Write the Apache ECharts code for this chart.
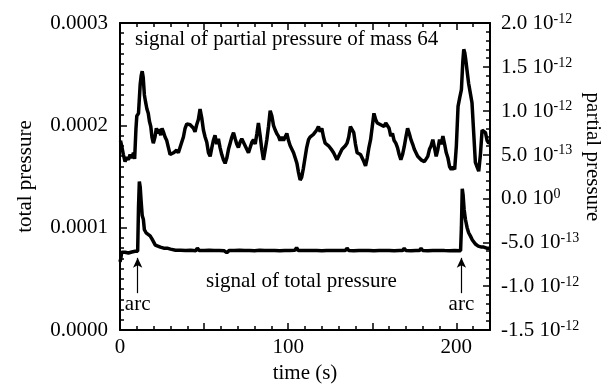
<!DOCTYPE html>
<html><head><meta charset="utf-8">
<script src="https://cdn.jsdelivr.net/npm/echarts@6/dist/echarts.min.js"></script>
<style>html,body{margin:0;padding:0;background:#fff}#c{width:604px;height:389px}</style>
</head><body><div id="c"></div>
<script>
// ---- data ----
// total pressure (left axis)
const timeTotal = [0,0.5,1,2,3,4,5,6,7,8,9,10.5,11,11.5,12,12.6,13.2,13.9,14.5,15.5,16.5,17.9,19,19.8,21,22,24,26,28,30,33,36,39,42,45,46,47,50,53,56,59,62,63.5,65,68,71,74,77,80,83,86,89,92,95,98,101,104,105,106,108,111,114,117,120,123,126,129,132,134,135,136,139,142,145,148,151,154,157,160,163,166,168,169,170,173,176,178,179,180,183,186,189,191,192,193,196,199,202.5,203,203.5,204,204.6,205.4,206.4,207.3,208.3,209.5,211.3,213,215,216.3,218,220];
const totalPressure = [0.0000665,0.000070,0.000076,0.0000755,0.000076,0.000077,0.0000752,0.000076,0.0000762,0.0000752,0.000077,0.000077,0.000120,0.000145,0.000140,0.000125,0.000112,0.000108,0.000098,0.000095,0.000094,0.000092,0.000089,0.000088,0.000083,0.000082,0.000081,0.000080,0.0000800,0.000079,0.000078,0.000078,0.0000776,0.0000779,0.0000775,0.0000800,0.0000778,0.0000777,0.0000779,0.0000776,0.0000778,0.0000774,0.0000755,0.0000778,0.0000777,0.0000779,0.0000776,0.0000778,0.0000775,0.0000779,0.0000777,0.0000776,0.0000778,0.0000775,0.0000778,0.0000777,0.0000779,0.0000805,0.0000776,0.0000778,0.0000776,0.0000778,0.0000777,0.0000775,0.0000778,0.0000776,0.0000778,0.0000777,0.0000776,0.0000800,0.0000777,0.0000775,0.0000778,0.0000776,0.0000778,0.0000775,0.0000777,0.0000776,0.0000778,0.0000775,0.0000777,0.0000776,0.0000798,0.0000777,0.0000775,0.0000777,0.0000776,0.0000797,0.0000777,0.0000775,0.0000778,0.0000776,0.0000777,0.0000796,0.0000776,0.0000775,0.0000777,0.0000775,0.000100,0.000138,0.000132,0.000118,0.000108,0.000100,0.000095,0.000092,0.000088,0.000084,0.000082,0.000081,0.000081,0.000080,0.000080];
// partial pressure of mass 64 (right axis), in units of 1e-12
const timePartial = [0.3,1,2,3,4,5,6,7,8,8.7,9.5,10,11,12,12.6,13.2,13.8,14.5,15.2,16,16.8,17.5,18.3,19,19.8,20.8,21.6,22.5,23.3,24.2,25,25.8,26.8,27.8,28.8,29.8,30.8,31.8,32.8,33.7,34.7,35.7,36.7,37.7,38.7,39.7,40.7,41.7,42.7,43.7,44.6,45.6,46.6,47.6,48.6,49.6,50.6,51.6,52.6,53.6,54.6,55.5,56.5,57.5,58.5,59.5,60.5,61.5,62.5,63.5,64.5,65.5,66.5,67.5,68.5,69.4,70.4,71.4,72.4,73.4,74.4,75.4,76.4,77.4,78.4,79.4,80.4,81.4,82.3,83.3,84.3,85.3,86.3,87.3,88.3,89.3,90.3,91.3,92.3,93.2,94.2,95.2,96.2,97.2,98.2,99.2,100.2,101.2,102.2,103.2,104.2,105.2,106.1,107.1,108,109,110,111,112.1,113,114,115,116,117,118,119,120,121,122,123,124,125,126,127,128,129,130,131,132,133,134,135,136,137,138,139,140,141,142,143,144,145,146,147,148,149,150,151,152,153,154,155,156,157,158,159,160,161,162,163,164,165,166,167,168,169,170,171,172,173,174,175,176,177,178,179,180,181,182,183,184,185,186,187,188,189,190,191,192,193,194,195,196,197,198,199,200,201,202,203,203.8,204.4,205,205.6,206.4,207.3,208.3,209.3,210.3,211.3,212.3,213.3,214.3,215.3,216.3,217.3,218.3,219.2,220];
const partialPressure = [0.66,0.60,0.50,0.42,0.47,0.44,0.50,0.46,0.52,0.45,0.80,0.94,0.97,1.30,1.40,1.45,1.38,1.18,1.10,1.02,0.97,0.88,0.82,0.70,0.63,0.70,0.80,0.74,0.79,0.72,0.80,0.76,0.70,0.66,0.58,0.50,0.48,0.52,0.51,0.55,0.52,0.58,0.60,0.70,0.80,0.85,0.86,0.84,0.86,0.80,0.76,0.84,0.90,1.02,0.92,0.78,0.70,0.64,0.52,0.48,0.58,0.66,0.72,0.62,0.68,0.58,0.50,0.44,0.40,0.46,0.56,0.63,0.70,0.75,0.68,0.62,0.58,0.64,0.68,0.66,0.60,0.56,0.52,0.58,0.64,0.67,0.62,0.74,0.86,0.72,0.56,0.44,0.55,0.67,0.82,1.00,0.94,0.83,0.78,0.74,0.71,0.66,0.70,0.66,0.70,0.74,0.66,0.60,0.56,0.52,0.46,0.40,0.30,0.21,0.24,0.34,0.46,0.58,0.67,0.70,0.68,0.73,0.74,0.78,0.82,0.76,0.80,0.70,0.63,0.62,0.60,0.59,0.55,0.52,0.48,0.44,0.48,0.52,0.56,0.54,0.60,0.63,0.70,0.82,0.80,0.75,0.62,0.52,0.54,0.50,0.48,0.42,0.37,0.46,0.58,0.67,0.82,0.97,0.90,0.86,0.88,0.84,0.86,0.82,0.86,0.88,0.80,0.71,0.74,0.66,0.63,0.58,0.50,0.44,0.50,0.59,0.70,0.80,0.74,0.67,0.62,0.56,0.52,0.48,0.46,0.44,0.46,0.42,0.41,0.48,0.56,0.60,0.67,0.58,0.48,0.56,0.67,0.62,0.71,0.62,0.52,0.46,0.36,0.33,0.36,0.33,0.60,1.05,1.15,1.24,1.55,1.70,1.66,1.58,1.45,1.31,1.20,1.09,0.75,0.41,0.36,0.31,0.50,0.78,0.80,0.75,0.66,0.63,0.64];
// tick labels
const xTickLabels = [0, 100, 200];
const leftTickLabels = ['0.0000','0.0001','0.0002','0.0003'];
const rightTickMantissa = ['-1.5','-1.0','-5.0','0.0','5.0','1.0','1.5','2.0'];
const rightTickExponent = ['-12','-12','-13','0','-13','-12','-12','-12'];
const arcTimes = [10.5, 203];

// ---- chart ----
const FONT = "'Liberation Serif','Times New Roman',serif";
const FS = 21;
const BLACK = '#000';
const txt = {color: BLACK, fontFamily: FONT, fontSize: FS};
const chart = echarts.init(document.getElementById('c'), null, {renderer: 'canvas'});

function xAxisDef(pos, interval, len, labels, line) {
  return {
    type: 'value', min: 0, max: 220, interval: interval, position: pos,
    axisLine: {show: line, onZero: false, lineStyle: {color: BLACK, width: 2}},
    axisTick: {show: true, inside: true, length: len, lineStyle: {color: BLACK, width: 1.5}},
    axisLabel: labels ? {
      show: true, margin: 7, ...txt,
      formatter: v => xTickLabels.indexOf(v) >= 0 ? String(v) : ''
    } : {show: false},
    splitLine: {show: false}
  };
}
const xAxes = [
  Object.assign(xAxisDef('bottom', 10, 4, true, true), {
    name: 'time (s)', nameLocation: 'middle', nameGap: 33, nameTextStyle: txt
  }),
  xAxisDef('bottom', 50, 7, false, false),
  xAxisDef('top', 10, 4, false, true),
  xAxisDef('top', 50, 7, false, false)
];

const totalData = timeTotal.map((t, i) => [t, totalPressure[i]]);
const partialData = timePartial.map((t, i) => [t, partialPressure[i]]);

chart.setOption({
  animation: false,
  backgroundColor: '#fff',
  grid: {left: 120, right: 114, top: 23, bottom: 58, containLabel: false},
  xAxis: xAxes,
  yAxis: [
    {
      type: 'value', min: 0, max: 0.0003, interval: 0.0001, position: 'left',
      axisLine: {show: true, onZero: false, lineStyle: {color: BLACK, width: 2}},
      axisTick: {show: true, inside: true, length: 7, lineStyle: {color: BLACK, width: 1.5}},
      minorTick: {show: true, splitNumber: 10, length: 4, lineStyle: {color: BLACK, width: 1.5}},
      axisLabel: {margin: 12, ...txt, formatter: v => leftTickLabels[Math.round(v / 0.0001)]},
      splitLine: {show: false}, minorSplitLine: {show: false},
      name: 'total pressure', nameLocation: 'middle', nameGap: 84, nameRotate: 90, nameTextStyle: txt
    },
    {
      type: 'value', min: -1.5, max: 2.0, interval: 0.5, position: 'right',
      axisLine: {show: true, onZero: false, lineStyle: {color: BLACK, width: 2}},
      axisTick: {show: true, inside: true, length: 7, lineStyle: {color: BLACK, width: 1.5}},
      minorTick: {show: true, splitNumber: 5, length: 4, lineStyle: {color: BLACK, width: 1.5}},
      axisLabel: {
        margin: 11, ...txt,
        formatter: v => {
          const i = Math.round((v + 1.5) / 0.5);
          return '{m|' + rightTickMantissa[i] + ' 10}{e|' + rightTickExponent[i] + '}';
        },
        rich: {
          m: {color: BLACK, fontFamily: FONT, fontSize: FS, lineHeight: 22, verticalAlign: 'bottom'},
          e: {color: BLACK, fontFamily: FONT, fontSize: 14, lineHeight: 22, verticalAlign: 'top', padding: [0, 0, 6, 0]}
        }
      },
      splitLine: {show: false}
    }
  ],
  graphic: [
    {type: 'text', left: 135, top: 29, style: {text: 'signal of partial pressure of mass 64', fill: BLACK, font: FS + 'px ' + FONT}},
    {type: 'text', left: 206, top: 271, style: {text: 'signal of total pressure', fill: BLACK, font: FS + 'px ' + FONT}},
    {type: 'text', x: 593, y: 157, rotation: -Math.PI / 2,
     style: {text: 'partial pressure', fill: BLACK, font: FS + 'px ' + FONT, align: 'center', verticalAlign: 'middle'}}
  ],
  series: [
    {
      name: 'total pressure', type: 'line', xAxisIndex: 0, yAxisIndex: 0,
      data: totalData, showSymbol: false, symbol: 'none',
      lineStyle: {color: BLACK, width: 3.5}, z: 3,
      markLine: {
        silent: true, symbol: ['none', 'arrow'], symbolSize: [7, 10],
        lineStyle: {color: BLACK, width: 1.2, type: 'solid'},
        label: {show: true, position: 'start', formatter: 'arc', distance: 1, ...txt},
        data: arcTimes.map(t => [{coord: [t, 0.000036]}, {coord: [t, 0.0000705]}])
      }
    },
    {
      name: 'partial pressure', type: 'line', xAxisIndex: 0, yAxisIndex: 1,
      data: partialData, showSymbol: false, symbol: 'none',
      lineStyle: {color: BLACK, width: 3.5}, z: 3
    }
  ]
});
</script></body></html>
